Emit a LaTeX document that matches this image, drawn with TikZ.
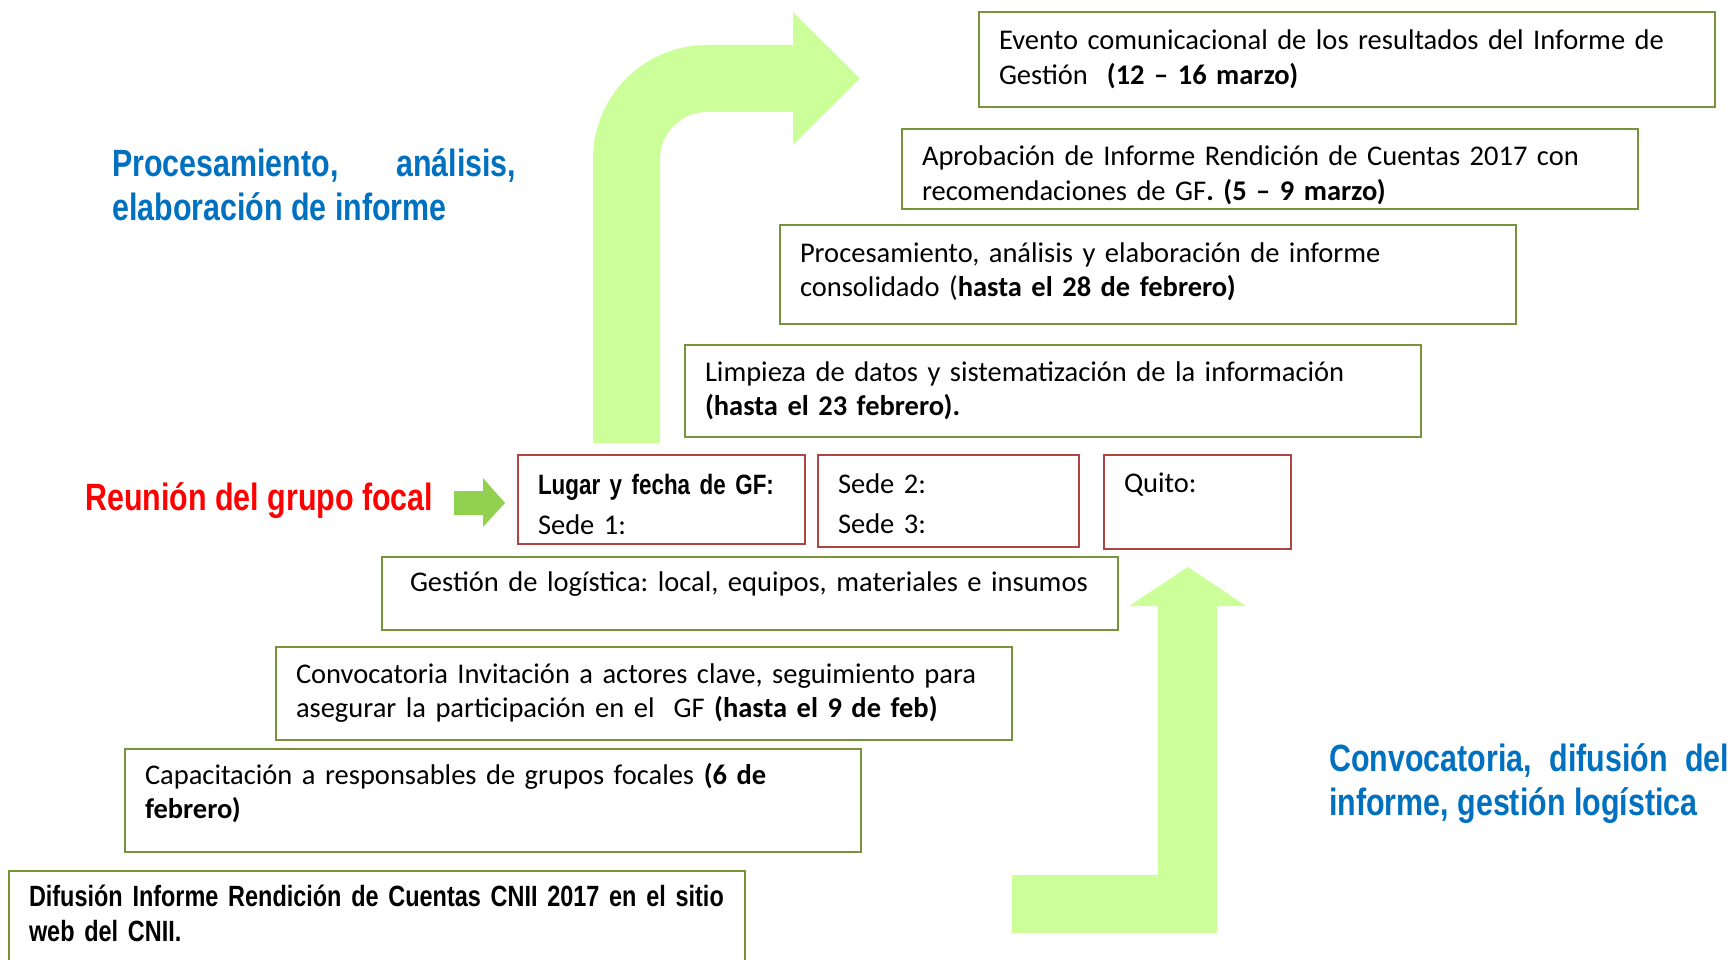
\documentclass[tikz,border=0pt]{standalone}
\usepackage{fontspec}
\setmainfont{Carlito}
\newfontfamily\narrowfont[FakeStretch=0.8]{Liberation Sans}
\usetikzlibrary{positioning}
\definecolor{boxgreen}{HTML}{77933C}
\definecolor{boxred}{HTML}{AD4542}
\definecolor{arrowfill}{HTML}{CCFF99}
\definecolor{smallarrow}{HTML}{92D050}
\definecolor{titleblue}{HTML}{0070C0}
\definecolor{titlered}{HTML}{FF0000}
\frenchspacing

\begin{document}
\begin{tikzpicture}[x = 1pt, y = -1pt,
gbox/.style = {draw = boxgreen, line width = 2pt, anchor = north west, align = left, text width = 696pt, inner xsep = 20pt, inner ysep = 0pt, font = \fontsize{28.5}{34.5}\selectfont},
rbox/.style = {draw = boxred, line width = 2pt, anchor = north west, align = left, inner xsep = 20pt, inner ysep = 0pt, font = \fontsize{28.5}{40}\selectfont},
heading/.style = {anchor = base west, align = left, inner sep = 0pt, font = \narrowfont\bfseries\fontsize{38}{44}\selectfont},
]
\path[use as bounding box] (0,0) rectangle (1732,960);
\clip (0,0) rectangle (1732,960);

\fill[arrowfill] (593,443) -- (593,159) .. controls (593,96) and (644,45) .. (707,45) -- (793,45) -- (793,12) -- (860,78.5) -- (793,145) -- (793,112) -- (707,112) .. controls (681,112) and (660,133) .. (660,159) -- (660,443) -- cycle;
\fill[arrowfill] (1012,875) -- (1158,875) -- (1158,606) -- (1129,606) -- (1188,567) -- (1246,606) -- (1217,606) -- (1217,933) -- (1012,933) -- cycle;
\fill[smallarrow] (454,491) -- (483,491) -- (483,478) -- (505,503) -- (483,527) -- (483,515) -- (454,515) -- cycle;

\node[gbox] (evento) at (978,11) [text height = 38pt, text depth = 57pt] {Evento comunicacional de los resultados del Informe de\\Gestión\ \ \textbf{(12 – 16 marzo)}};
\node[gbox] (aprobacion) at (901,128) [text height = 37pt, text depth = 43pt] {Aprobación de Informe Rendición de Cuentas 2017 con\\recomendaciones de GF\textbf{. (5 – 9 marzo)}};
\node[gbox] (procesamiento) at (779,224) [text height = 37pt, text depth = 62pt] {Procesamiento, análisis y elaboración de informe\\consolidado (\textbf{hasta el 28 de febrero)}};
\node[gbox] (limpieza) at (684,344) [text height = 36pt, text depth = 56pt] {Limpieza de datos y sistematización de la información\\\textbf{(hasta el 23 febrero).}};

\node[rbox] (lugar) at (517,454) [text width = 247pt, text height = 39pt, text depth = 50pt] {{\narrowfont\bfseries\fontsize{28}{40}\selectfont Lugar y fecha de GF:}\\Sede 1:};
\node[rbox] (sedes) [right = 11pt of lugar.north east, anchor = north west, text width = 221pt, text height = 38pt, text depth = 54pt] {Sede 2:\\Sede 3:};
\node[rbox] (quito) [right = 23pt of sedes.north east, anchor = north west, text width = 147pt, text height = 37pt, text depth = 57pt] {Quito:};

\node[gbox] (logistica) at (381,556) [inner xsep = 28pt, text width = 680pt, text height = 34pt, text depth = 39pt] {\mbox{Gestión de logística: local, equipos, materiales e insumos}};
\node[gbox] (convocatoria) at (275,646) [text height = 36pt, text depth = 57pt] {Convocatoria Invitación a actores clave, seguimiento para\\asegurar la participación en el\ \ GF \textbf{(hasta el 9 de feb)}};
\node[gbox] (capacitacion) at (124,748) [text height = 35pt, text depth = 68pt] {Capacitación a responsables de grupos focales \textbf{(6 de}\\\textbf{febrero)}};
\node[gbox] (difusion) at (8,870) [text height = 35pt, text depth = 95pt, font = \narrowfont\bfseries\fontsize{29.3}{35}\selectfont] {Difusión Informe Rendición de Cuentas CNII 2017 en el sitio\\web del CNII.};

\node[heading, text = titleblue] (tproc) at (112,221) {\makebox[404pt][s]{Procesamiento,\hfill análisis,}\\elaboración de informe};
\node[heading, text = titlered] (treunion) at (85,510) {Reunión del grupo focal};
\node[heading, text = titleblue] (tconv) at (1329,815) {\makebox[400pt][s]{Convocatoria,\hfill difusión\hfill del}\\informe, gestión logística};
\end{tikzpicture}
\end{document}
